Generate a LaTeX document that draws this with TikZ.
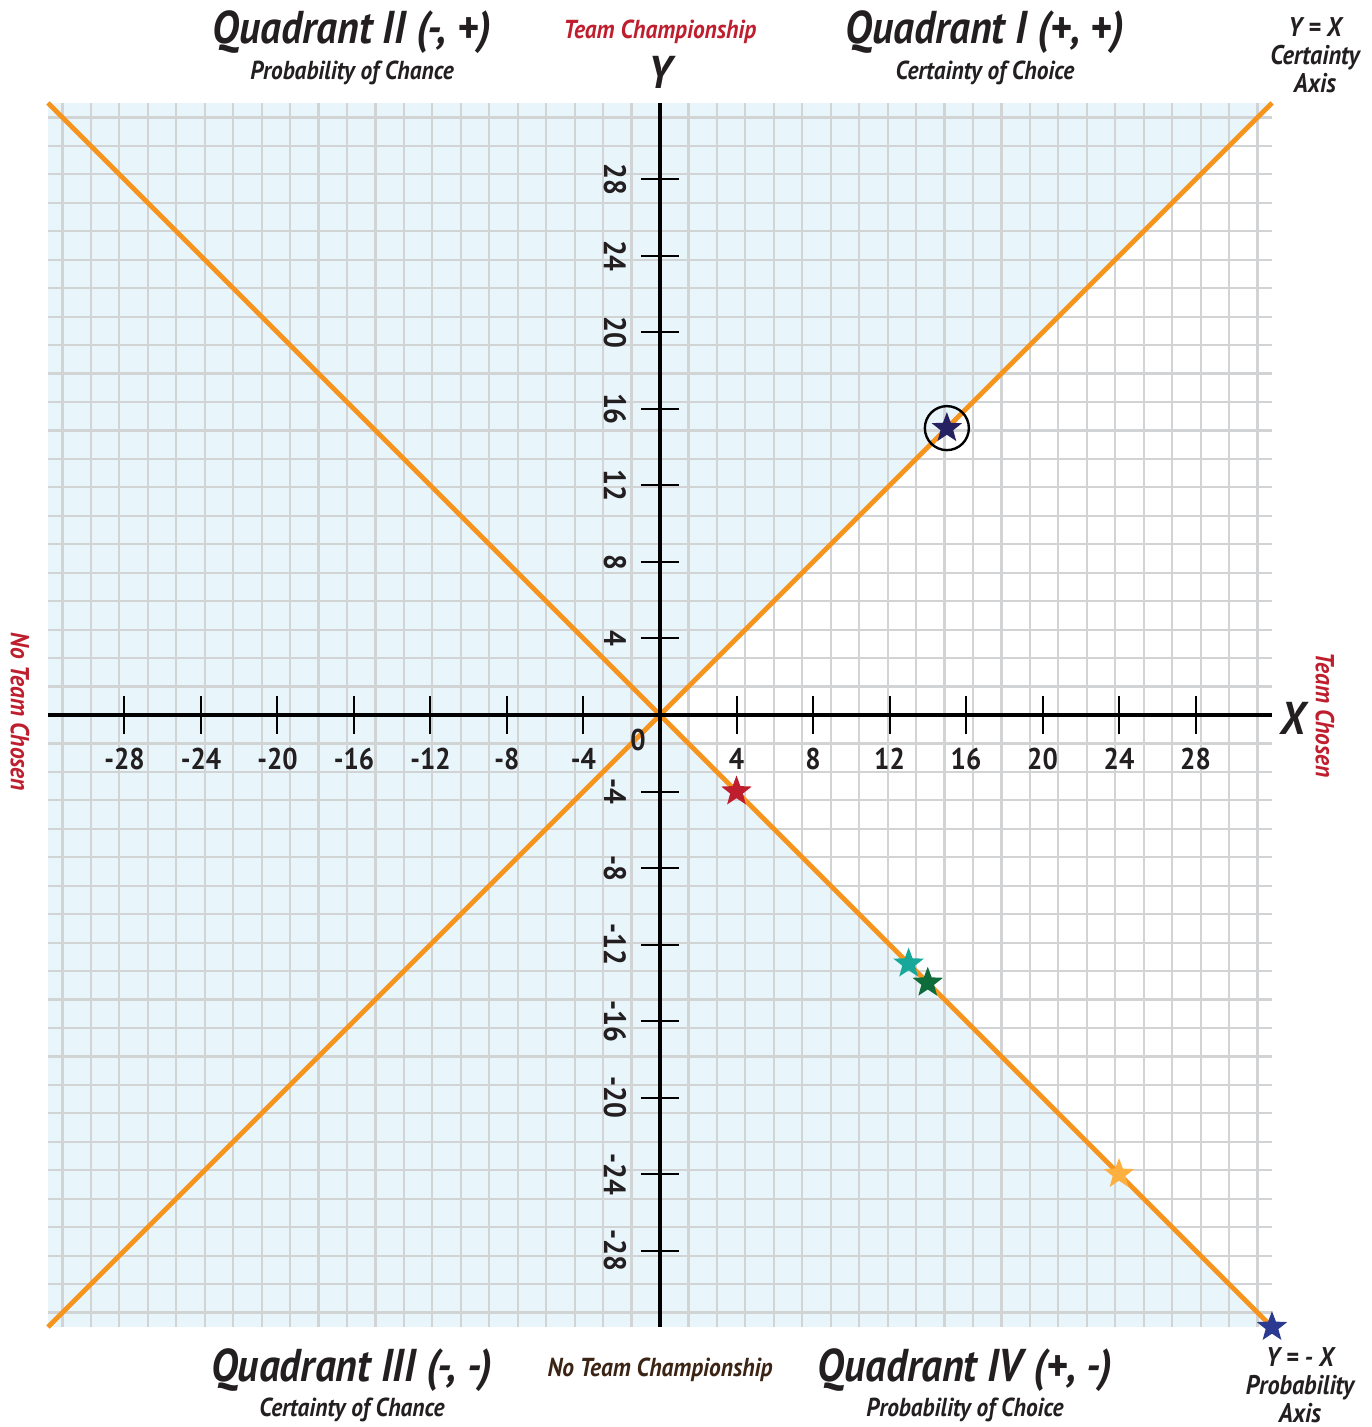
\documentclass[tikz,border=0pt]{standalone}
\usepackage{fontspec}
\usetikzlibrary{shapes.geometric}
\newfontfamily\cond[FakeStretch=0.9]{PT Sans}
\definecolor{bgblue}{HTML}{E8F5FB}
\definecolor{gridgray}{HTML}{D1D3D4}
\definecolor{orangeline}{HTML}{F7941D}
\definecolor{txt}{HTML}{231F20}
\definecolor{redtxt}{HTML}{BE1E2D}
\definecolor{browntxt}{HTML}{3C2415}
\definecolor{starred}{HTML}{BE1E2D}
\definecolor{starnavy}{HTML}{262262}
\definecolor{starteal}{HTML}{17A89A}
\definecolor{stargreen}{HTML}{0E6B3A}
\definecolor{starorange}{HTML}{FBB040}
\definecolor{starblue}{HTML}{2B3990}
\tikzset{
  quadtitle/.style={text=txt,font=\cond\bfseries\itshape\fontsize{46}{48}\selectfont,inner sep=0pt},
  quadsub/.style={text=txt,font=\cond\bfseries\itshape\fontsize{26}{28}\selectfont,inner sep=0pt},
  redlabel/.style={text=redtxt,font=\cond\bfseries\itshape\fontsize{26}{28}\selectfont,inner sep=0pt},
  axislabel/.style={text=txt,font=\cond\bfseries\itshape\fontsize{46}{48}\selectfont,inner sep=0pt},
  axisnote/.style={text=txt,font=\cond\bfseries\itshape\fontsize{27}{28}\selectfont,inner sep=0pt,align=center},
  xticklab/.style={text=txt,font=\cond\bfseries\fontsize{30}{32}\selectfont,inner sep=0pt},
  yticklab/.style={text=txt,font=\cond\bfseries\fontsize{31}{33}\selectfont,inner sep=0pt,rotate=-90},
  starmark/.style={star,star points=5,star point ratio=2.4,minimum size=32pt,inner sep=0pt,draw=none},
  gridline/.style={draw=gridgray,line width=2.2pt},
  diagline/.style={draw=orangeline,line width=4.6pt},
  axisline/.style={draw=black,line width=4pt},
  tickline/.style={draw=black,line width=2pt}
}
\begin{document}
\begin{tikzpicture}[x=19.125pt,y=19.125pt]
\useasboundingbox (-660pt,-712pt) rectangle (711pt,715pt);
% shading
\fill[bgblue] (-32,-32) rectangle (32,32);
\fill[white] (0,0) -- (32,32) -- (32,-32) -- cycle;
% grid
\draw[gridline] (-32,-32) grid (32,32);
% diagonal lines
\coordinate (ul) at (-32,32);
\coordinate (ur) at (32,32);
\coordinate (ll) at (-32,-32);
\coordinate (lr) at (32,-32);
\coordinate (o) at (0,0);
\draw[diagline] (ll) -- (ur);
\draw[diagline] (ul) -- (lr);
% axes
\coordinate (xl) at (-32,0);
\coordinate (xr) at (32,0);
\coordinate (yb) at (0,-32);
\coordinate (yt) at (0,32);
\draw[axisline] (xl) -- (xr);
\draw[axisline] (yb) -- (yt);
% ticks and labels
\foreach \v in {-28,-24,-20,-16,-12,-8,-4,4,8,12,16,20,24,28}{
  \draw[tickline] (\v,-1) -- (\v,1);
  \draw[tickline] (-1,\v) -- (1,\v);
  \node[xticklab] (xt\v) at (\v,-2.3) {\v};
  \node[yticklab] (yt\v) at (-2.35,\v) {\v};
}
\node[xticklab] (zero) at (-1.15,-1.3) {0};
% stars
\node[starmark,fill=starred] (s1) at (4,-4) {};
\node[starmark,fill=starnavy] (s2) at (15,15) {};
\node[draw=black,line width=2.4pt,circle,minimum size=44pt,inner sep=0pt] (c2) at (15,15) {};
\node[starmark,fill=starteal] (s3) at (13,-13) {};
\node[starmark,fill=stargreen] (s4) at (14,-14) {};
\node[starmark,fill=starorange] (s5) at (24,-24) {};
\node[starmark,fill=starblue] (s6) at (32,-32) {};
% titles
\node[quadtitle] (q2) at (-308pt,683pt) {Quadrant II (-, +)};
\node[quadsub] (q2s) at (-308pt,642pt) {Probability of Chance};
\node[redlabel] (tc) at (0pt,683pt) {Team Championship};
\node[axislabel] (ylab) at (0pt,643pt) {Y};
\node[quadtitle] (q1) at (325pt,683pt) {Quadrant I (+, +)};
\node[quadsub] (q1s) at (325pt,642pt) {Certainty of Choice};
\node[axisnote] (yx) at (655pt,660pt) {Y = X\\Certainty\\Axis};
\node[redlabel,rotate=-90] (ntc) at (-640pt,3pt) {No Team Chosen};
\node[redlabel,rotate=-90] (tch) at (665pt,0pt) {Team Chosen};
\node[axislabel] (xlab) at (633pt,-3pt) {X};
\node[quadtitle] (q3) at (-308pt,-655pt) {Quadrant III (-, -)};
\node[quadsub] (q3s) at (-308pt,-695pt) {Certainty of Chance};
\node[quadsub,text=browntxt] (ntch) at (0pt,-655pt) {No Team Championship};
\node[quadtitle] (q4) at (305pt,-655pt) {Quadrant IV (+, -)};
\node[quadsub] (q4s) at (305pt,-695pt) {Probability of Choice};
\node[axisnote] (ymx) at (640pt,-670pt) {Y = - X\\Probability\\Axis};
\end{tikzpicture}
\end{document}
